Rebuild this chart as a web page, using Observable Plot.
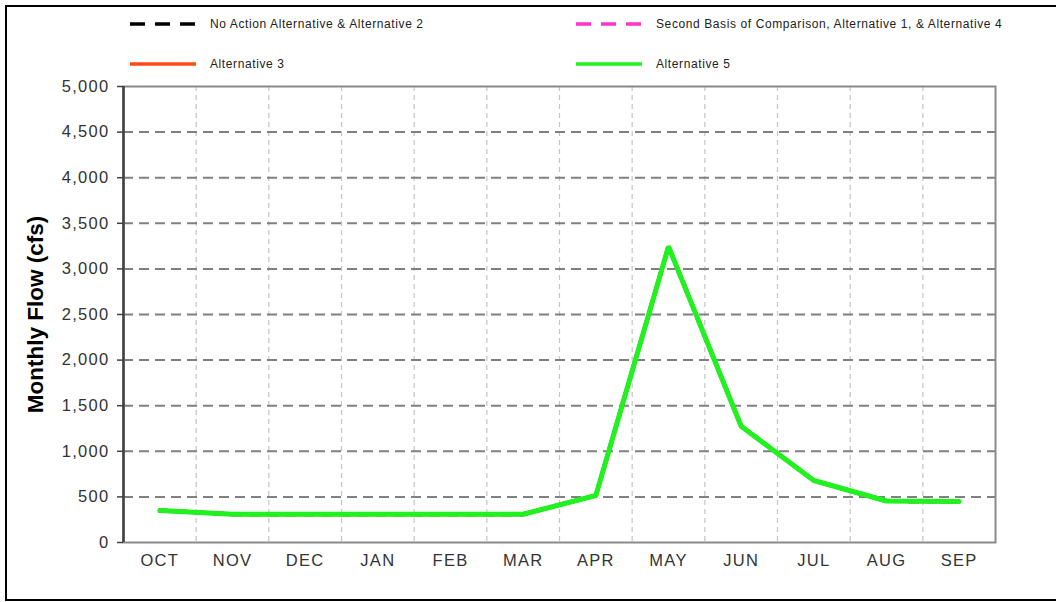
<!DOCTYPE html>
<html>
<head>
<meta charset="utf-8">
<script src="https://cdn.jsdelivr.net/npm/d3@7"></script>
<script src="https://cdn.jsdelivr.net/npm/@observablehq/plot@0.6"></script>
<style>
  html, body { margin: 0; padding: 0; background: #fff; overflow: hidden; }
  #wrap { position: relative; width: 1056px; height: 602px; overflow: hidden; font-family: "Liberation Sans", Arial, sans-serif; }
  #frame { position: absolute; left: 5px; top: 5px; width: 1100px; height: 596px; border: 2px solid #000; border-right: none; box-sizing: border-box; }
  .leg { position: absolute; display: flex; align-items: center; font-size: 12px; letter-spacing: 0.6px; color: #222; white-space: nowrap; }
  .leg svg { margin-right: 14px; }
  #chart { position: absolute; left: 0; top: 0; }
  #chart svg g[aria-label$="tick label"] text { letter-spacing: 1.3px; }
</style>
</head>
<body>
<div id="wrap">
  <div id="frame"></div>
  <div id="chart"></div>
  <div id="legend"></div>
</div>
<script>
const months = ["OCT","NOV","DEC","JAN","FEB","MAR","APR","MAY","JUN","JUL","AUG","SEP"];
const seriesNames = [
  "No Action Alternative & Alternative 2",
  "Second Basis of Comparison, Alternative 1, & Alternative 4",
  "Alternative 3",
  "Alternative 5"
];
const seriesColors = ["#000000", "#ff33cc", "#ff4a10", "#1ff21f"];
const seriesDash = ["10,8", "10,8", null, null];
const noActionAlt2 = [350, 310, 310, 310, 310, 310, 515, 3245, 1275, 680, 455, 450];
const secondBasisAlt1Alt4 = [350, 310, 310, 310, 310, 310, 515, 3245, 1275, 680, 455, 450];
const alternative3 = [350, 310, 310, 310, 310, 310, 515, 3245, 1275, 680, 455, 450];
const alternative5 = [350, 310, 310, 310, 310, 310, 515, 3245, 1275, 680, 455, 450];
const yTicks = [0, 500, 1000, 1500, 2000, 2500, 3000, 3500, 4000, 4500, 5000];

const allSeries = [noActionAlt2, secondBasisAlt1Alt4, alternative3, alternative5];
const rows = [];
allSeries.forEach((vals, s) => vals.forEach((v, i) => rows.push({s, i, v})));
const idx = months.map((m, i) => i);
const bounds = months.slice(1).map((m, i) => i + 0.5);

const lineMarks = allSeries.map((vals, s) =>
  Plot.line(rows.filter(d => d.s === s), {
    x: "i", y: "v", stroke: seriesColors[s], strokeWidth: s === 3 ? 5 : 4,
    strokeDasharray: seriesDash[s], strokeLinejoin: "miter"
  })
);

const chart = Plot.plot({
  width: 1056, height: 602,
  marginLeft: 123, marginRight: 61, marginTop: 86, marginBottom: 60,
  style: { fontFamily: "Liberation Sans, Arial, sans-serif", background: "transparent" },
  x: { type: "linear", domain: [-0.5, 11.5] },
  y: { domain: [0, 5000] },
  marks: [
    Plot.ruleX(bounds, { stroke: "#c4c4c4", strokeWidth: 1.2, strokeDasharray: "5,4" }),
    Plot.ruleY(yTicks.filter(t => t > 0 && t < 5000), { stroke: "#808080", strokeWidth: 2, strokeDasharray: "10,6" }),
    Plot.frame({ stroke: "#8a8a8a", strokeWidth: 2 }),
    Plot.ruleX([-0.5], { stroke: "#404040", strokeWidth: 2.5 }),
    ...lineMarks,
    Plot.axisY(yTicks, { tickFormat: d3.format(","), tickSize: 6, tickPadding: 8, fontSize: 16.5, color: "#333", stroke: "#404040", strokeWidth: 1.5, label: null }),
    Plot.axisX(idx, { tickFormat: i => months[i], tickSize: 0, tickPadding: 12, fontSize: 16.5, color: "#333", label: null }),
    Plot.text(["Monthly Flow (cfs)"], { frameAnchor: "left", textAnchor: "middle", dx: -88, rotate: -90, fontSize: 22.5, fontWeight: "bold", fill: "#000" })
  ]
});
document.getElementById("chart").appendChild(chart);

const legendPos = [
  { left: 130, top: 24 }, { left: 576, top: 24 },
  { left: 130, top: 64 }, { left: 576, top: 64 }
];
const legend = document.getElementById("legend");
seriesNames.forEach((name, s) => {
  const div = document.createElement("div");
  div.className = "leg";
  div.style.left = legendPos[s].left + "px";
  div.style.top = (legendPos[s].top - 8) + "px";
  div.style.height = "16px";
  const dash = seriesDash[s] ? ' stroke-dasharray="15,10"' : "";
  div.innerHTML = `<svg width="66" height="8"><line x1="0" y1="4" x2="66" y2="4" stroke="${seriesColors[s]}" stroke-width="3.5"${dash}/></svg><span>${name}</span>`;
  legend.appendChild(div);
});
</script>
</body>
</html>
